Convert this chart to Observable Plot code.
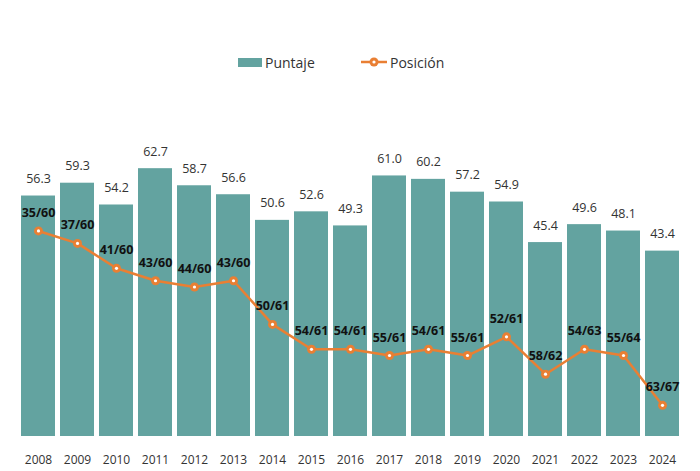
<!DOCTYPE html>
<html>
<head>
<meta charset="utf-8">
<script src="https://cdn.jsdelivr.net/npm/d3@7"></script>
<script src="https://cdn.jsdelivr.net/npm/@observablehq/plot@0.6"></script>
<style>
  html, body { margin: 0; padding: 0; background: #fff; }
  body { width: 700px; height: 471px; overflow: hidden; font-family: "Open Sans", sans-serif; }
  #legend { position: relative; height: 90px; color: #333; font-size: 14px; }
  .item { position: absolute; top: 52px; display: flex; align-items: center; height: 20px; }
  .sw { width: 24px; height: 9px; background: #63a3a0; margin-right: 3px; }
  .ln { width: 26px; height: 20px; margin-right: 3px; }
</style>
</head>
<body>
<div id="legend">
  <div class="item" style="left:238px"><div class="sw"></div><span>Puntaje</span></div>
  <div class="item" style="left:361px">
    <svg class="ln" viewBox="0 0 26 20"><line x1="0" y1="10" x2="26" y2="10" stroke="#e97f33" stroke-width="2.5"/><circle cx="13" cy="10" r="4.5" fill="#e97f33"/><circle cx="13" cy="10" r="1.6" fill="#fff"/></svg>
    <span>Posición</span></div>
</div>
<div id="chart"></div>
<script>
const years = ["2008","2009","2010","2011","2012","2013","2014","2015","2016","2017","2018","2019","2020","2021","2022","2023","2024"];
const puntaje = [56.3,59.3,54.2,62.7,58.7,56.6,50.6,52.6,49.3,61.0,60.2,57.2,54.9,45.4,49.6,48.1,43.4];
const posicion = [35,37,41,43,44,43,50,54,54,55,54,55,52,58,54,55,63];
const total = [60,60,60,60,60,60,61,61,61,61,61,61,61,62,63,64,67];

const data = years.map((y, i) => ({year: y, score: puntaje[i], rank: posicion[i], total: total[i]}));

const yDomain = [0, 70];
const rankToY = d3.scaleLinear().domain([68, 20]).range(yDomain);

const teal = "#63a3a0";
const orange = "#e97f33";

const chart = Plot.plot({
  width: 700,
  height: 381,
  marginLeft: 14,
  marginRight: 14,
  marginTop: 47,
  marginBottom: 35,
  style: {fontFamily: "'Open Sans', sans-serif", fontSize: "12px", color: "#333", background: "#fff"},
  x: {domain: years, paddingInner: 0.12, paddingOuter: 0, label: null, tickSize: 0, tickPadding: 19},
  y: {domain: yDomain, axis: null},
  marks: [
    Plot.barY(data, {x: "year", y: "score", fill: teal}),
    Plot.text(data, {x: "year", y: "score", text: d => d.score.toFixed(1), dy: -17, fill: "#333", fontSize: 12.5}),
    Plot.line(data, {x: "year", y: d => rankToY(d.rank), stroke: orange, strokeWidth: 2.5, curve: "linear"}),
    Plot.dot(data, {x: "year", y: d => rankToY(d.rank), r: 4.5, fill: orange, stroke: "none"}),
    Plot.dot(data, {x: "year", y: d => rankToY(d.rank), r: 1.6, fill: "#fff", stroke: "none"}),
    Plot.text(data, {x: "year", y: d => rankToY(d.rank), text: d => `${d.rank}/${d.total}`, dy: -18, fill: "#111", fontWeight: "bold", fontSize: 12.5})
  ]
});
document.getElementById("chart").appendChild(chart);
</script>
</body>
</html>
